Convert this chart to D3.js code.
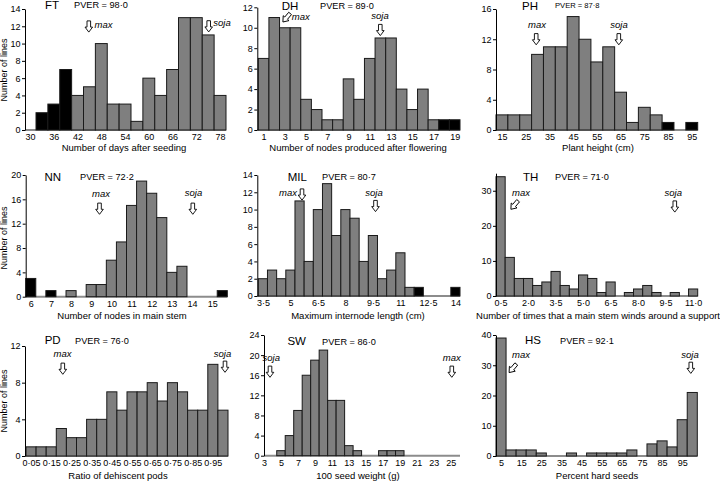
<!DOCTYPE html>
<html><head><meta charset="utf-8">
<script src="https://cdn.jsdelivr.net/npm/d3@7"></script>
<style>
body{margin:0;background:#fff}
svg{display:block}
text{font-family:"Liberation Sans",Arial,Helvetica,sans-serif;fill:#000}
</style>
</head><body>
<svg id="c" width="720" height="482"></svg>
<script>
// ---------- DATA ----------
const ftBins=[33,36,39,42,45,48,51,54,57,60,63,66,69,72,75,78];
const ftCounts=[2,3,7,4,5,10,3,3,1,6,4,7,13,13,11,4];
const ftBlack=[33,36,39];
const ftXTicks=[30,36,42,48,54,60,66,72,78];
const ftYTicks=[0,2,4,6,8,10,12,14];

const dhBins=[1,2,3,4,5,6,7,8,9,10,11,12,13,14,15,16,17,18,19];
const dhCounts=[7,11,10,10,3,2,1,1,5,3,7,9,9,4,2,4,1,1,1];
const dhBlack=[18,19];
const dhXTicks=[1,3,5,7,9,11,13,15,17,19];
const dhYTicks=[0,2,4,6,8,10,12];

const phBins=[15,20,25,30,35,40,45,50,55,60,65,70,75,80,85,90,95];
const phCounts=[2,2,2,10,11,11,15,12,9,11,5,1,3,2,1,0,1];
const phBlack=[85,95];
const phXTicks=[15,25,35,45,55,65,75,85,95];
const phYTicks=[0,4,8,12,16];

const nnBins=[6,6.5,7,7.5,8,8.5,9,9.5,10,10.5,11,11.5,12,12.5,13,13.5,14,14.5,15,15.5];
const nnCounts=[3,0,1,0,1,0,2,2,6,9,15,19,17,13,4,5,0,0,0,1];
const nnBlack=[6,7,15.5];
const nnXTicks=[6,7,8,9,10,11,12,13,14,15];
const nnYTicks=[0,4,8,12,16,20];

const milBins=[3.5,4,4.5,5,5.5,6,6.5,7,7.5,8,8.5,9,9.5,10,10.5,11,11.5,12,12.5,13,13.5,14];
const milCounts=[2,3,2,3,11,4,10,13,7,10,9,4,7,2,3,5,1,1,0,0,0,1];
const milBlack=[12,14];
const milXTicks=[3.5,5,6.5,8,9.5,11,12.5,14];
const milYTicks=[0,2,4,6,8,10,12,14];

const thBins=[0.5,1,1.5,2,2.5,3,3.5,4,4.5,5,5.5,6,6.5,7,7.5,8,8.5,9,9.5,10,10.5,11];
const thCounts=[34,11,5,5,3,4,7,3,2,6,5,1,4,0,1,2,3,1,0,1,0,2];
const thBlack=[];
const thXTicks=[0.5,2,3.5,5,6.5,8,9.5,11];
const thYTicks=[0,10,20,30];

const pdBins=[0.05,0.10,0.15,0.20,0.25,0.30,0.35,0.40,0.45,0.50,0.55,0.60,0.65,0.70,0.75,0.80,0.85,0.90,0.95,1.00];
const pdCounts=[1,1,1,3,2,2,4,4,7,5,7,7,8,6,8,7,5,5,10,5];
const pdBlack=[];
const pdXTicks=[0.05,0.15,0.25,0.35,0.45,0.55,0.65,0.75,0.85,0.95];
const pdYTicks=[0,4,8,12];

const swBins=[5,6,7,8,9,10,11,12,13,14,15,16,17,18,19];
const swCounts=[1,4,9,16,19,21,11,11,2,1,0,0,1,1,1];
const swBlack=[];
const swXTicks=[3,5,7,9,11,13,15,17,19,21,23,25];
const swYTicks=[0,4,8,12,16,20,24];

const hsBins=[5,10,15,20,25,30,35,40,45,50,55,60,65,70,75,80,85,90,95,100];
const hsCounts=[39,2,2,2,1,0,0,1,0,1,1,1,1,2,0,4,5,3,12,21];
const hsBlack=[];
const hsXTicks=[5,15,25,35,45,55,65,75,85,95];
const hsYTicks=[0,10,20,30,40];

// ---------- LAYOUT ----------
const fmt0=d=>String(d);
const fmtDot=p=>d=>d.toFixed(p).replace('.','·');
const fmtMixed=d=>String(d).replace('.','·');

const panels=[
 {id:'FT',pver:'PVER = 98·0',bins:ftBins,counts:ftCounts,black:ftBlack,w:3,xt:ftXTicks,yt:ftYTicks,fmt:fmt0,
  xl:'Number of days after seeding',dom:[31.5,79.5],rng:[36,226],ax:25,xEnd:226,yMax:14,y0:130,yTop:9,
  idx:52,idy:8.5,pvx:74,pvy:7.5,pvs:9.2,xlx:124,xly:151,ylab:70,
  ann:[{t:'max',ax:88.8,ay:26.5,r:0,tx:94.5,ty:28.3,a:'start'},{t:'soja',ax:208.7,ay:26.3,r:0,tx:213.3,ty:26,a:'start'}]},
 {id:'DH',pver:'PVER = 89·0',bins:dhBins,counts:dhCounts,black:dhBlack,w:1,xt:dhXTicks,yt:dhYTicks,fmt:fmt0,
  xl:'Number of nodes produced after flowering',dom:[0.5,19.5],rng:[258.3,460],ax:257.3,xEnd:460,yMax:12,y0:130,yTop:7.3,
  idx:290,idy:9.5,pvx:320,pvy:8.5,pvs:9.2,xlx:358,xly:151,ylab:null,
  ann:[{t:'max',ax:286.5,ay:17.7,r:40,tx:291.8,ty:20,a:'start'},{t:'soja',ax:380.3,ay:30,r:0,tx:380,ty:19.3,a:'middle'}]},
 {id:'PH',pver:'PVER = 87·8',bins:phBins,counts:phCounts,black:phBlack,w:5,xt:phXTicks,yt:phYTicks,fmt:fmt0,
  xl:'Plant height (cm)',dom:[12.5,97.5],rng:[496,697.7],ax:496,xEnd:697.7,yMax:16,y0:130,yTop:9,
  idx:530,idy:9.5,pvx:555,pvy:7.5,pvs:7.6,xlx:598,xly:151,ylab:null,
  ann:[{t:'max',ax:536.2,ay:39.2,r:0,tx:537,ty:28.3,a:'middle'},{t:'soja',ax:618.8,ay:39.2,r:0,tx:619,ty:28,a:'middle'}]},
 {id:'NN',pver:'PVER = 72·2',bins:nnBins,counts:nnCounts,black:nnBlack,w:0.5,xt:nnXTicks,yt:nnYTicks,fmt:fmt0,
  xl:'Number of nodes in main stem',dom:[5.75,15.75],rng:[25.7,227.3],ax:25.7,xEnd:227.3,yMax:20,y0:296.7,yTop:175,
  idx:52.7,idy:180.7,pvx:80,pvy:180,pvs:9.2,xlx:122,xly:318.5,ylab:238,
  ann:[{t:'max',ax:99.5,ay:208.7,r:0,tx:101,ty:196.7,a:'middle'},{t:'soja',ax:192.8,ay:208.7,r:0,tx:193.5,ty:196.3,a:'middle'}]},
 {id:'MIL',pver:'PVER = 80·7',bins:milBins,counts:milCounts,black:milBlack,w:0.5,xt:milXTicks,yt:milYTicks,fmt:fmtMixed,
  xl:'Maximum internode length (cm)',dom:[3.25,14.25],rng:[258.3,460],ax:257.3,xEnd:460,yMax:14,y0:296,yTop:175,
  idx:297.3,idy:180.5,pvx:322,pvy:180,pvs:9.2,xlx:358,xly:318.5,ylab:null,
  ann:[{t:'max',ax:302,ay:194.5,r:0,tx:297,ty:195.5,a:'end'},{t:'soja',ax:375.5,ay:206,r:0,tx:374,ty:195.8,a:'middle'}]},
 {id:'TH',pver:'PVER = 71·0',bins:thBins,counts:thCounts,black:thBlack,w:0.5,xt:thXTicks,yt:thYTicks,fmt:fmtDot(1),
  xl:'Number of times that a main stem winds around a support',dom:[0.25,11.25],rng:[496,697.7],ax:496,xEnd:697.7,yMax:35,y0:296,yTop:173.2,
  idx:530.7,idy:181,pvx:555,pvy:180,pvs:9.2,xlx:598,xly:318.5,ylab:null,
  ann:[{t:'max',ax:514.5,ay:205,r:40,tx:521,ty:195.5,a:'middle'},{t:'soja',ax:674.8,ay:206.5,r:0,tx:673.3,ty:195.5,a:'middle'}]},
 {id:'PD',pver:'PVER = 76·0',bins:pdBins,counts:pdCounts,black:pdBlack,w:0.05,xt:pdXTicks,yt:pdYTicks,fmt:fmtDot(2),
  xl:'Ratio of dehiscent pods',dom:[0.025,1.025],rng:[26,228],ax:25,xEnd:228,yMax:12,y0:456,yTop:346,
  idx:52.7,idy:344,pvx:75,pvy:343.5,pvs:9.2,xlx:118,xly:478.5,ylab:401,
  ann:[{t:'max',ax:62.8,ay:368.7,r:0,tx:62.5,ty:357,a:'middle'},{t:'soja',ax:225,ay:366.7,r:0,tx:222.5,ty:357,a:'middle'}]},
 {id:'SW',pver:'PVER = 86·0',bins:swBins,counts:swCounts,black:swBlack,w:1,xt:swXTicks,yt:swYTicks,fmt:fmt0,
  xl:'100 seed weight (g)',dom:[3,25],rng:[264,450.7],ax:264,xEnd:460,yMax:24,y0:455.7,yTop:335,
  idx:296.7,idy:345,pvx:322,pvy:344.5,pvs:9.2,xlx:358,xly:478.5,ylab:null,
  ann:[{t:'soja',ax:270,ay:371.7,r:0,tx:271.3,ty:360.5,a:'middle'},{t:'max',ax:451.8,ay:371.7,r:0,tx:451.7,ty:360.5,a:'middle'}]},
 {id:'HS',pver:'PVER = 92·1',bins:hsBins,counts:hsCounts,black:hsBlack,w:5,xt:hsXTicks,yt:hsYTicks,fmt:fmt0,
  xl:'Percent hard seeds',dom:[2.5,102.5],rng:[496,697.3],ax:496,xEnd:697.3,yMax:40,y0:456,yTop:335,
  idx:533,idy:344,pvx:560,pvy:343.5,pvs:9.2,xlx:597,xly:478.5,ylab:null,
  ann:[{t:'max',ax:512.7,ay:368.3,r:40,tx:521,ty:357.5,a:'middle'},{t:'soja',ax:690.8,ay:367.8,r:0,tx:690,ty:357.5,a:'middle'}]}
];

const svg=d3.select('#c');
const arrowPath='M0,5.6 L-3.8,0.6 L-1.8,0.6 L-1.8,-5.6 L1.8,-5.6 L1.8,0.6 L3.8,0.6 Z';

panels.forEach(p=>{
  const g=svg.append('g');
  const x=d3.scaleLinear().domain(p.dom).range(p.rng);
  const y=d3.scaleLinear().domain([0,p.yMax]).range([p.y0,p.yTop]);

  // baseline
  g.append('line').attr('x1',p.ax).attr('x2',p.xEnd).attr('y1',p.y0).attr('y2',p.y0)
    .attr('stroke','#8c8c8c').attr('stroke-width',2);

  // bars
  const data=p.bins.map((b,i)=>({b,c:p.counts[i],k:p.black.includes(b)})).filter(d=>d.c>0);
  g.selectAll('rect.bar').data(data).join('rect').attr('class','bar')
    .attr('x',d=>x(d.b-p.w/2)).attr('width',d=>x(d.b+p.w/2)-x(d.b-p.w/2))
    .attr('y',d=>y(d.c)).attr('height',d=>p.y0-y(d.c))
    .attr('fill',d=>d.k?'#000':'#7f7f7f').attr('stroke','#1a1a1a').attr('stroke-width',1);

  // y axis
  const ya=g.append('g').attr('transform',`translate(${p.ax},0)`)
    .call(d3.axisLeft(y).tickValues(p.yt).tickSize(3).tickPadding(1.5).tickSizeOuter(0));
  ya.select('.domain').attr('stroke','#000').attr('stroke-width',1);
  ya.selectAll('.tick line').attr('stroke','#000');
  ya.selectAll('text').style('font-size','9px').attr('fill','#000');
  ya.attr('font-family',null);

  // x axis labels
  const xa=g.append('g').attr('transform',`translate(0,${p.y0})`)
    .call(d3.axisBottom(x).tickValues(p.xt).tickSize(0).tickPadding(3.8).tickFormat(p.fmt));
  xa.select('.domain').remove();
  xa.selectAll('text').style('font-size','9px').attr('fill','#000');
  xa.attr('font-family',null);

  // axis title
  g.append('text').attr('x',p.xlx).attr('y',p.xly).attr('text-anchor','middle')
    .style('font-size','9.5px').text(p.xl);
  if(p.ylab!==null){
    g.append('text').attr('transform',`translate(7.2,${p.ylab}) rotate(-90)`).attr('text-anchor','middle')
      .style('font-size','9px').text('Number of lines');
  }
  // id and PVER
  g.append('text').attr('x',p.idx).attr('y',p.idy).attr('text-anchor','middle')
    .style('font-size','11.5px').text(p.id);
  g.append('text').attr('x',p.pvx).attr('y',p.pvy).style('font-size',p.pvs+'px').text(p.pver);

  // annotations
  p.ann.forEach(a=>{
    g.append('path').attr('d',arrowPath).attr('transform',`translate(${a.ax},${a.ay}) rotate(${a.r})`)
      .attr('fill','#fff').attr('stroke','#000').attr('stroke-width',0.9);
    g.append('text').attr('x',a.tx).attr('y',a.ty).attr('text-anchor',a.a)
      .style('font-size','9.5px').style('font-style','italic').text(a.t);
  });
});
</script>
</body></html>
